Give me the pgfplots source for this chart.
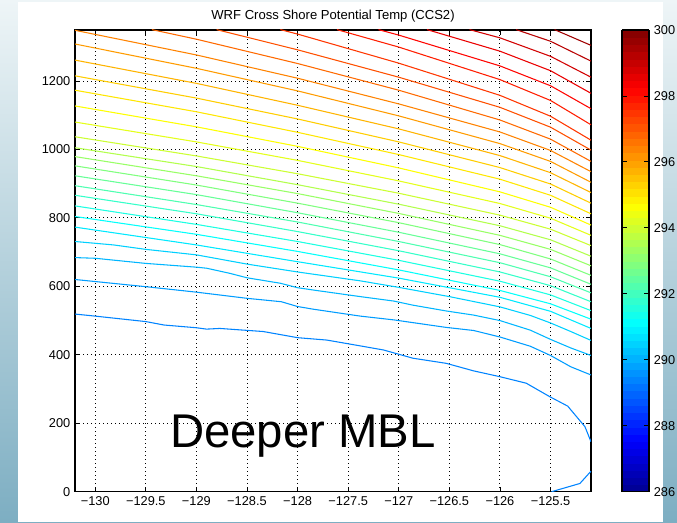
\documentclass[border=0pt]{standalone}
\usepackage{pgfplots}
\pgfplotsset{compat=1.18}
\usepackage{fontspec}
\setmainfont{Liberation Sans}
\definecolor{bgtop}{RGB}{238,245,247}
\definecolor{bgmid}{RGB}{208,227,234}
\definecolor{bgbot}{RGB}{125,174,194}
\pgfplotsset{
  colormap={matjet}{rgb255(0pt)=(0,0,143) rgb255(7pt)=(0,0,255) rgb255(23pt)=(0,255,255) rgb255(39pt)=(255,255,0) rgb255(55pt)=(255,0,0) rgb255(63pt)=(128,0,0)},
  /pgf/number format/1000 sep={},
}
\begin{document}
\begin{tikzpicture}
\shade[top color=bgtop, middle color=bgmid, bottom color=bgbot] (0pt,0pt) rectangle (507.75pt,391.5pt);
\fill[white] (13.5pt,0pt) rectangle (497.25pt,390pt);
\begin{axis}[
  at={(56.25pt,22.725pt)}, anchor=south west,
  scale only axis, width=387pt, height=346.3pt,
  xmin=-130.2, xmax=-125.1, ymin=0, ymax=1349,
  xtick={-130,-129.5,-129,-128.5,-128,-127.5,-127,-126.5,-126,-125.5},
  xticklabels={−130,−129.5,−129,−128.5,−128,−127.5,−127,−126.5,−126,−125.5},
  ytick={0,200,400,600,800,1000,1200},
  yticklabels={0,200,400,600,800,1000,1200},
  tick align=inside, tick pos=both, major tick length=3.9pt,
  every tick/.style={black, line width=0.6pt},
  grid=major,
  grid style={black, line width=0.7pt, dash pattern=on 0.7pt off 2.3pt},
  axis line style={black, line width=1pt},
  ticklabel style={font=\fontsize{9.6}{11}\selectfont, text=black},
  colormap name=matjet,
  point meta min=286, point meta max=300,
  colorbar sampled,
  colorbar style={
    at={(parent axis.south east)}, anchor=south west, xshift=14.8pt,
    scale only axis, width=20.25pt, height=346.3pt,
    samples=65,
    ytick={286,288,...,300},
    ytick pos=both, yticklabel pos=right,
    tick align=inside, major tick length=3.9pt,
    every tick/.style={black, line width=0.6pt},
    axis line style={black, line width=1pt},
    yticklabel style={font=\fontsize{9.6}{11}\selectfont, text=black, /pgf/number format/assume math mode=true},
  },
]
\addplot[contour prepared={labels=false}, point meta=explicit, line width=0.8pt]
table[x index=0, y index=1, meta index=2] {
-130.20 519 289.40
-130.00 513 289.40
-129.50 497 289.40
-129.32 487 289.40
-129.00 479 289.40
-128.90 475 289.40
-128.77 477 289.40
-128.34 468 289.40
-128.00 450 289.40
-127.71 443 289.40
-127.38 426 289.40
-127.15 414 289.40
-126.86 390 289.40
-126.53 375 289.40
-126.26 353 289.40
-126.00 336 289.40
-125.74 317 289.40
-125.51 278 289.40
-125.33 250 289.40
-125.16 190 289.40
-125.10 146 289.40

-125.10 60 289.40
-125.21 24 289.40
-125.49 0 289.40

-130.20 620 289.75
-129.50 599 289.75
-129.00 583 289.75
-128.50 565 289.75
-128.16 555 289.75
-128.00 541 289.75
-127.84 533 289.75
-127.38 513 289.75
-127.05 502 289.75
-126.53 480 289.75
-126.26 471 289.75
-126.00 452 289.75
-125.70 425 289.75
-125.50 398 289.75
-125.30 365 289.75
-125.10 341 289.75

-130.20 684 290.10
-130.00 682 290.10
-129.50 667 290.10
-129.00 656 290.10
-128.90 653 290.10
-128.67 638 290.10
-128.50 625 290.10
-128.17 609 290.10
-128.00 596 290.10
-127.84 589 290.10
-127.38 570 290.10
-127.05 557 290.10
-126.86 545 290.10
-126.53 528 290.10
-126.26 516 290.10
-126.00 500 290.10
-125.70 472 290.10
-125.50 445 290.10
-125.30 420 290.10
-125.10 398 290.10

-130.20 731 290.45
-129.82 721 290.45
-129.50 708 290.45
-129.00 692 290.45
-128.50 665 290.45
-128.00 642 290.45
-127.38 616 290.45
-127.00 597 290.45
-126.50 570 290.45
-126.00 540 290.45
-125.70 515 290.45
-125.50 493 290.45
-125.30 468 290.45
-125.10 442 290.45

-130.2 773 290.80
-129.0 721 290.80
-128.0 672 290.80
-127.0 624 290.80
-126.0 568 290.80
-125.5 527 290.80
-125.1 477 290.80

-130.2 804 291.15
-129.0 752 291.15
-128.0 702 291.15
-127.0 648 291.15
-126.0 588 291.15
-125.5 549 291.15
-125.1 504 291.15

-130.2 835 291.50
-129.0 781 291.50
-128.0 731 291.50
-127.0 676 291.50
-126.0 615 291.50
-125.5 575 291.50
-125.1 529 291.50

-130.2 866 291.85
-129.0 812 291.85
-128.0 760 291.85
-127.0 704 291.85
-126.0 642 291.85
-125.5 602 291.85
-125.1 555 291.85

-130.2 894 292.20
-129.0 839 292.20
-128.0 788 292.20
-127.0 731 292.20
-126.0 669 292.20
-125.5 628 292.20
-125.1 581 292.20

-130.2 923 292.55
-129.0 868 292.55
-128.0 815 292.55
-127.0 758 292.55
-126.0 695 292.55
-125.5 654 292.55
-125.1 606 292.55

-130.2 952 292.90
-129.0 896 292.90
-128.0 843 292.90
-127.0 786 292.90
-126.0 722 292.90
-125.5 680 292.90
-125.1 632 292.90

-130.2 979 293.25
-129.0 923 293.25
-128.0 871 293.25
-127.0 813 293.25
-126.0 749 293.25
-125.5 708 293.25
-125.1 660 293.25

-130.2 1005 293.60
-129.0 950 293.60
-128.0 897 293.60
-127.0 840 293.60
-126.0 777 293.60
-125.5 736 293.60
-125.1 688 293.60

-130.2 1037 293.95
-129.0 981 293.95
-128.0 929 293.95
-127.0 872 293.95
-126.0 808 293.95
-125.5 767 293.95
-125.1 719 293.95

-130.2 1080 294.30
-129.0 1022 294.30
-128.0 968 294.30
-127.0 908 294.30
-126.0 842 294.30
-125.5 799 294.30
-125.1 749 294.30

-130.2 1127 294.65
-129.0 1066 294.65
-128.0 1009 294.65
-127.0 946 294.65
-126.0 876 294.65
-125.5 831 294.65
-125.1 779 294.65

-130.2 1173 295.00
-129.0 1110 295.00
-128.0 1050 295.00
-127.0 985 295.00
-126.0 913 295.00
-125.5 866 295.00
-125.1 812 295.00

-130.2 1215 295.35
-129.0 1150 295.35
-128.0 1089 295.35
-127.0 1022 295.35
-126.0 947 295.35
-125.5 899 295.35
-125.1 843 295.35

-130.2 1261 295.70
-129.0 1193 295.70
-128.0 1129 295.70
-127.0 1060 295.70
-126.0 982 295.70
-125.5 932 295.70
-125.1 874 295.70

-130.2 1308 296.05
-129.0 1237 296.05
-128.0 1171 296.05
-127.0 1098 296.05
-126.0 1017 296.05
-125.5 965 296.05
-125.1 904 296.05

-130.2 1348 296.40
-129.0 1276 296.40
-128.0 1208 296.40
-127.0 1133 296.40
-126.0 1051 296.40
-125.5 997 296.40
-125.1 935 296.40

-129.44 1350 296.75
-129.0 1322 296.75
-128.0 1251 296.75
-127.0 1173 296.75
-126.0 1086 296.75
-125.5 1030 296.75
-125.1 965 296.75

-128.80 1350 297.10
-128.0 1291 297.10
-127.0 1211 297.10
-126.0 1123 297.10
-125.5 1065 297.10
-125.1 998 297.10

-128.17 1350 297.45
-128.0 1337 297.45
-127.0 1252 297.45
-126.0 1158 297.45
-125.5 1097 297.45
-125.1 1027 297.45

-127.61 1350 297.80
-127.0 1299 297.80
-126.0 1204 297.80
-125.5 1143 297.80
-125.1 1072 297.80

-127.20 1350 298.15
-127.0 1334 298.15
-126.0 1244 298.15
-125.5 1186 298.15
-125.1 1119 298.15

-126.72 1350 298.50
-126.0 1287 298.50
-125.5 1230 298.50
-125.1 1164 298.50

-126.30 1350 298.85
-126.0 1326 298.85
-125.5 1272 298.85
-125.1 1211 298.85

-125.84 1350 299.20
-125.5 1316 299.20
-125.1 1258 299.20

-125.46 1350 299.55
-125.1 1304 299.55
};
\node[anchor=base west, inner sep=0pt, font=\fontsize{35.5}{40}\selectfont] at (axis cs:-129.262,128.6) {Deeper MBL};
\end{axis}
\node[anchor=base, inner sep=0pt, font=\fontsize{9.8}{12}\selectfont] at (249.75pt,376.5pt) {WRF Cross Shore Potential Temp (CCS2)};
\pgfresetboundingbox
\useasboundingbox (0pt,0pt) rectangle (507.75pt,391.5pt);
\end{tikzpicture}
\end{document}
